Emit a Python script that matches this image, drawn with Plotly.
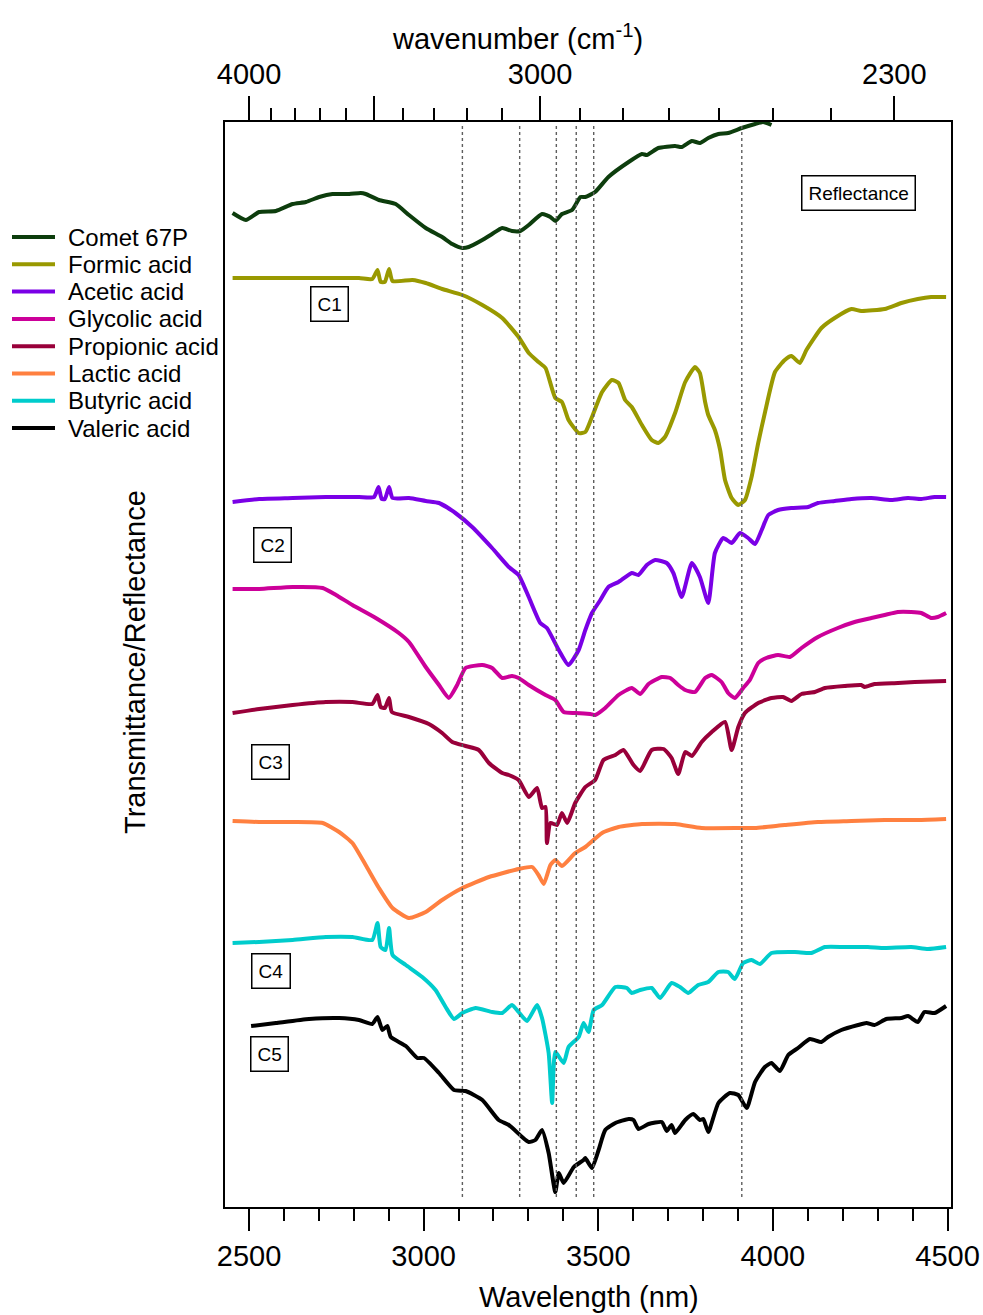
import plotly.graph_objects as go

# ---- spectra: wavelength (nm) and stacked signal (arbitrary units, offset per trace) ----
comet_nm = [2453, 2491, 2529, 2577, 2625, 2663, 2701, 2739, 2787, 2820, 2834, 2872, 2920, 2958, 3006,
            3053, 3082, 3111, 3129, 3168, 3196, 3225, 3253, 3277, 3301, 3339, 3363, 3377, 3396, 3425,
            3449, 3463, 3491, 3529, 3587, 3625, 3639, 3672, 3720, 3739, 3768, 3791, 3815, 3844, 3872,
            3911, 3949, 3972, 3996]
comet_sig = [994, 987, 995, 996, 1003, 1005, 1010, 1013, 1013, 1014, 1013, 1007, 1003, 992, 979,
             970, 963, 959, 960, 967, 973, 979, 976, 976, 982, 993, 990, 986, 993, 997,
             1010, 1010, 1015, 1030, 1045, 1053, 1052, 1059, 1061, 1060, 1066, 1064, 1069, 1073, 1074,
             1079, 1083, 1085, 1082]

formic_nm = [2453, 2529, 2625, 2720, 2815, 2853, 2868, 2877, 2889, 2901, 2911, 2968, 3006, 3053, 3111,
             3168, 3225, 3272, 3301, 3329, 3349, 3377, 3396, 3415, 3444, 3463, 3482, 3511, 3539, 3558,
             3577, 3596, 3625, 3653, 3672, 3691, 3720, 3749, 3777, 3791, 3806, 3815, 3834, 3849, 3863,
             3882, 3901, 3920, 3939, 3958, 3977, 4006, 4034, 4053, 4077, 4096, 4139, 4177, 4225, 4253,
             4320, 4368, 4415, 4453, 4496]
formic_sig = [929, 929, 929, 929, 929, 928, 937, 925, 925, 938, 926, 927, 924, 918, 912,
              902, 889, 870, 854, 845, 839, 809, 805, 787, 774, 775, 790, 815, 827, 824,
              807, 800, 782, 767, 764, 770, 794, 825, 840, 834, 805, 792, 777, 757, 727,
              709, 702, 707, 730, 764, 794, 835, 847, 851, 844, 857, 879, 889, 898, 896,
              898, 904, 908, 910, 910]

acetic_nm = [2453, 2529, 2625, 2720, 2815, 2858, 2871, 2880, 2889, 2901, 2911, 2958, 3006, 3044, 3091,
             3139, 3196, 3244, 3272, 3301, 3334, 3353, 3387, 3415, 3444, 3463, 3482, 3506, 3529, 3558,
             3596, 3615, 3639, 3663, 3696, 3715, 3739, 3768, 3791, 3815, 3834, 3858, 3882, 3906, 3929,
             3949, 3968, 3987, 4015, 4053, 4101, 4129, 4177, 4225, 4282, 4339, 4387, 4425, 4463, 4496]
acetic_sig = [705, 708, 709, 710, 710, 710, 720, 708, 708, 720, 709, 709, 706, 704, 694,
              680, 659, 640, 632, 610, 584, 579, 557, 542, 557, 577, 594, 607, 620, 625,
              634, 632, 642, 647, 644, 634, 610, 644, 630, 604, 654, 669, 664, 674, 669,
              663, 677, 692, 697, 699, 700, 704, 706, 708, 709, 707, 709, 708, 710, 710]

glycolic_nm = [2453, 2529, 2625, 2711, 2749, 2796, 2863, 2929, 2958, 3006, 3044, 3072, 3096, 3120, 3168,
               3196, 3225, 3253, 3272, 3301, 3349, 3377, 3401, 3434, 3477, 3491, 3520, 3558, 3596, 3620,
               3644, 3682, 3706, 3729, 3749, 3777, 3806, 3825, 3853, 3872, 3891, 3915, 3934, 3958, 3981,
               4015, 4049, 4082, 4129, 4186, 4234, 4282, 4320, 4358, 4396, 4425, 4453, 4472, 4496]
glycolic_sig = [618, 618, 620, 619, 612, 602, 589, 574, 565, 540, 522, 509, 522, 539, 542,
                539, 529, 531, 529, 522, 512, 507, 495, 494, 493, 492, 499, 512, 519, 513,
                523, 530, 529, 522, 517, 515, 529, 532, 525, 514, 509, 519, 527, 544, 549,
                552, 550, 559, 570, 579, 585, 589, 592, 595, 595, 594, 589, 590, 594]

propionic_nm = [2453, 2529, 2625, 2720, 2796, 2853, 2868, 2877, 2889, 2901, 2909, 2958, 3015, 3053, 3082,
                3120, 3158, 3187, 3225, 3244, 3272, 3301, 3325, 3339, 3349, 3353, 3363, 3382, 3396, 3411,
                3434, 3463, 3491, 3515, 3549, 3572, 3601, 3620, 3653, 3687, 3710, 3729, 3749, 3768, 3796,
                3825, 3863, 3882, 3901, 3920, 3958, 3996, 4029, 4053, 4082, 4120, 4149, 4206, 4253, 4263,
                4291, 4358, 4406, 4496]
propionic_sig = [494, 498, 502, 505, 505, 503, 512, 500, 499, 509, 495, 490, 483, 474, 465,
                 461, 457, 444, 434, 432, 427, 410, 419, 399, 400, 364, 384, 382, 394, 384,
                 404, 420, 427, 447, 452, 457, 442, 436, 457, 458, 449, 433, 455, 451, 465,
                 475, 485, 457, 480, 494, 504, 509, 510, 506, 513, 515, 519, 521, 522, 520,
                 523, 524, 525, 526]

lactic_nm = [2453, 2529, 2625, 2711, 2758, 2796, 2834, 2872, 2911, 2958, 3006, 3053, 3111, 3187, 3272,
             3311, 3329, 3344, 3363, 3377, 3396, 3434, 3463, 3511, 3558, 3625, 3720, 3796, 3911, 3949,
             4034, 4129, 4225, 4320, 4415, 4496]
lactic_sig = [386, 385, 385, 384, 375, 364, 342, 319, 299, 289, 295, 307, 319, 330, 338,
              340, 332, 323, 342, 347, 341, 354, 360, 374, 380, 383, 383, 379, 379, 379,
              382, 385, 386, 387, 387, 388]

butyric_nm = [2453, 2529, 2625, 2720, 2796, 2853, 2868, 2877, 2891, 2901, 2911, 2949, 2996, 3034, 3063,
              3087, 3111, 3149, 3196, 3225, 3253, 3272, 3296, 3325, 3339, 3358, 3368, 3377, 3401, 3415,
              3444, 3458, 3472, 3487, 3511, 3549, 3582, 3596, 3620, 3653, 3677, 3710, 3734, 3758, 3786,
              3815, 3844, 3872, 3891, 3915, 3939, 3963, 3996, 4063, 4110, 4149, 4206, 4272, 4320, 4396,
              4444, 4496]
butyric_sig = [264, 265, 267, 270, 270, 267, 284, 260, 257, 279, 252, 242, 230, 217, 200,
               188, 194, 199, 195, 194, 202, 195, 186, 202, 189, 154, 104, 155, 144, 160,
               170, 184, 175, 197, 202, 220, 219, 214, 217, 219, 209, 224, 220, 214, 222,
               225, 235, 235, 228, 244, 247, 243, 254, 255, 254, 260, 260, 260, 259, 260,
               258, 260]

valeric_nm = [2506, 2577, 2672, 2758, 2815, 2853, 2868, 2882, 2896, 2906, 2949, 2982, 3001, 3044, 3087,
              3120, 3168, 3215, 3244, 3282, 3301, 3320, 3339, 3358, 3377, 3387, 3401, 3430, 3458, 3463,
              3482, 3501, 3520, 3549, 3587, 3601, 3615, 3644, 3682, 3696, 3710, 3720, 3749, 3772, 3791,
              3801, 3815, 3844, 3877, 3901, 3925, 3949, 3977, 3996, 4020, 4044, 4072, 4106, 4139, 4158,
              4196, 4244, 4268, 4291, 4325, 4368, 4387, 4415, 4434, 4463, 4496]
valeric_sig = [181, 184, 188, 189, 187, 183, 190, 177, 181, 170, 161, 149, 149, 134, 117,
               116, 107, 87, 82, 70, 65, 67, 77, 54, 15, 34, 24, 40, 47, 49,
               39, 57, 77, 84, 88, 87, 78, 83, 85, 76, 82, 74, 87, 93, 87,
               88, 75, 104, 114, 112, 99, 125, 140, 144, 136, 152, 159, 168, 165, 170,
               177, 182, 184, 182, 188, 189, 191, 185, 195, 194, 201]

series_names = ["Comet 67P", "Formic acid", "Acetic acid", "Glycolic acid",
                "Propionic acid", "Lactic acid", "Butyric acid", "Valeric acid"]
series_colors = ["#0d3d0d", "#999900", "#7a00e6", "#cc0099",
                 "#99003a", "#ff8040", "#00cccc", "#000000"]
series_x = [comet_nm, formic_nm, acetic_nm, glycolic_nm,
            propionic_nm, lactic_nm, butyric_nm, valeric_nm]
series_y = [comet_sig, formic_sig, acetic_sig, glycolic_sig,
            propionic_sig, lactic_sig, butyric_sig, valeric_sig]

# band positions marked by dotted guide lines (nm)
band_nm = [3111, 3275, 3380, 3437, 3487, 3911]
band_span = [10, 1082]

# axis ticks
wl_ticks = [2500, 3000, 3500, 4000, 4500]
wn_major = [4000, 3500, 3000, 2300]
wn_major_text = ["4000", " ", "3000", "2300"]
wn_minor = [3900, 3800, 3700, 3600, 3400, 3300, 3200, 3100, 2900, 2800, 2700, 2600, 2500, 2400]

# sample labels
box_labels = ["Reflectance", "C1", "C2", "C3", "C4", "C5"]

# ---- layout geometry (pixels) ----
W, H = 983, 1315
L, R, T, B = 225, 951, 122, 1207
PX_PER_NM = 0.34925          # 2500 nm sits 24 px right of the left frame
X_RANGE = [2500 - (249 - L) / PX_PER_NM, 2500 + (R - 249) / PX_PER_NM]
Y_RANGE = [0, 1085]


def px(x, y):
    return (x - L) / (R - L), (B - y) / (B - T)


AX_FONT = "Liberation Sans, Arial, sans-serif"
TX_FONT = "Liberation Sans, Arial, sans-serif"
AX_SIZE = 29

fig = go.Figure()

# dotted guide lines, drawn against the top (wavenumber) axis
gx, gy = [], []
for b in band_nm:
    gx += [b, b, None]
    gy += [band_span[0], band_span[1], None]
fig.add_trace(go.Scatter(x=gx, y=gy, xaxis="x2", yaxis="y", mode="lines",
                         line=dict(color="#5e5e5e", width=1.4, dash="dot"),
                         showlegend=False, hoverinfo="skip"))

for name, color, xs, ys in zip(series_names, series_colors, series_x, series_y):
    fig.add_trace(go.Scatter(x=xs, y=ys, mode="lines", name=name,
                             line=dict(color=color, width=4, shape="spline", smoothing=0.5),
                             showlegend=False))

annotations = []
shapes = []

# legend drawn at the left of the frame
leg_y0, leg_dy = 237, 27.3
for i, (name, color) in enumerate(zip(series_names, series_colors)):
    yy = leg_y0 + i * leg_dy
    x0, y0 = px(12, yy)
    x1, _ = px(55, yy)
    shapes.append(dict(type="line", xref="paper", yref="paper", x0=x0, x1=x1, y0=y0, y1=y0,
                       line=dict(color=color, width=4)))
    tx, ty = px(66, yy)
    annotations.append(dict(text=name, xref="paper", yref="paper", x=tx, y=ty,
                            xanchor="left", yanchor="middle", showarrow=False,
                            font=dict(family=TX_FONT, size=24, color="black")))

# boxed sample labels
box_pos = [(858, 193), (329, 304), (272, 545), (270, 762), (271, 971), (269, 1054)]
for text, (bx, by) in zip(box_labels, box_pos):
    ax_, ay_ = px(bx, by)
    annotations.append(dict(text=text, xref="paper", yref="paper", x=ax_, y=ay_,
                            xanchor="center", yanchor="middle", showarrow=False,
                            font=dict(family=TX_FONT, size=19, color="black"),
                            bordercolor="black", borderwidth=1.5, borderpad=6,
                            bgcolor="white"))

# axis titles
tx, ty = px(589, 1297)
annotations.append(dict(text="Wavelength (nm)", xref="paper", yref="paper", x=tx, y=ty,
                        xanchor="center", yanchor="middle", showarrow=False,
                        font=dict(family=AX_FONT, size=AX_SIZE, color="black")))
tx, ty = px(517, 37)
annotations.append(dict(text="wavenumber (cm<sup>-1</sup>)", xref="paper", yref="paper", x=tx, y=ty,
                        xanchor="center", yanchor="middle", showarrow=False,
                        font=dict(family=AX_FONT, size=AX_SIZE, color="black")))
tx, ty = px(135, 662)
annotations.append(dict(text="Transmittance/Reflectance", xref="paper", yref="paper", x=tx, y=ty,
                        xanchor="center", yanchor="middle", showarrow=False, textangle=-90,
                        font=dict(family=AX_FONT, size=AX_SIZE, color="black")))

fig.update_layout(
    width=W, height=H,
    margin=dict(l=L, r=W - R, t=T, b=H - B, pad=0, autoexpand=False),
    paper_bgcolor="white", plot_bgcolor="white",
    showlegend=False,
    shapes=shapes, annotations=annotations,
    xaxis=dict(range=X_RANGE, tickmode="array", tickvals=wl_ticks, automargin=False,
               ticks="outside", ticklen=22, tickwidth=2, tickcolor="black",
               minor=dict(dtick=100, tick0=2500, ticks="outside", ticklen=12, tickwidth=2,
                          tickcolor="black"),
               showline=True, linewidth=2, linecolor="black", mirror=False,
               showgrid=False, zeroline=False, ticklabeloverflow="allow",
               tickfont=dict(family=AX_FONT, size=AX_SIZE, color="black")),
    xaxis2=dict(range=X_RANGE, overlaying="x", side="top", anchor="y", automargin=False,
                tickmode="array", tickvals=[1e7 / w for w in wn_major], ticktext=wn_major_text,
                ticks="outside", ticklen=24, tickwidth=2, tickcolor="black",
                minor=dict(tickmode="array", tickvals=[1e7 / w for w in wn_minor],
                           ticks="outside", ticklen=12, tickwidth=2, tickcolor="black"),
                showline=True, linewidth=2, linecolor="black",
                showgrid=False, zeroline=False, ticklabeloverflow="allow",
                tickfont=dict(family=AX_FONT, size=AX_SIZE, color="black")),
    yaxis=dict(range=Y_RANGE, showticklabels=False, ticks="", automargin=False,
               showline=True, linewidth=2, linecolor="black", mirror=True,
               showgrid=False, zeroline=False),
)

fig.write_html("out.html")
